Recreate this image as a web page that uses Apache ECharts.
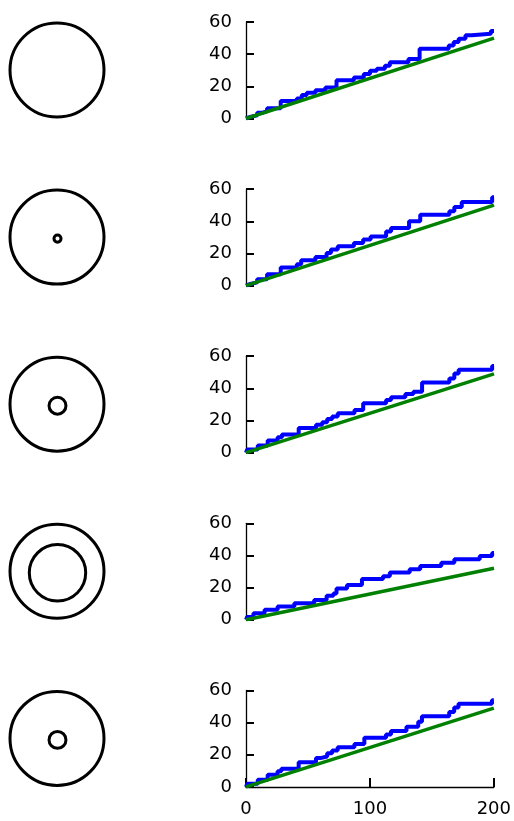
<!DOCTYPE html>
<html>
<head>
<meta charset="utf-8">
<script src="https://cdn.jsdelivr.net/npm/echarts@6/dist/echarts.min.js"></script>
<style>
html,body{margin:0;padding:0;background:#fff;}
#chart{width:514px;height:821px;}
</style>
</head>
<body>
<div id="chart"></div>
<script>
// ---- data ----
const xTicks = [0, 100, 200];
const yTicks = [0, 20, 40, 60];

// blue step series (x where a level starts, level value)
const blueX1 = [0, 1, 3.5, 9, 13, 17, 28, 41, 45, 49, 56, 64, 73, 87, 95, 100, 105.5, 112, 116, 131, 140, 163.5, 167.5, 171.5, 177, 182, 197.5, 200];
const blueY1 = [0, 1, 2, 3.5, 4.6, 6.3, 10.9, 12.5, 14.6, 16, 17.6, 19.2, 23.8, 25.5, 27.6, 29.7, 31, 32.8, 35, 37, 43.3, 45.4, 47.5, 49.6, 51.7, 52.7, 54.4, 54.4];

const blueX2 = [0, 1, 3.5, 9, 17, 28, 41, 44.5, 56, 65, 68.5, 74, 87, 94.5, 100.5, 113, 117, 131.5, 140.5, 164, 168, 174, 198.5, 200];
const blueY2 = [0, 1, 2, 4, 7, 11.2, 13.2, 15.7, 17.8, 20.3, 22.4, 24.4, 26.5, 28.6, 30.6, 33.7, 35.8, 40, 44.1, 46.2, 48.9, 52, 55, 55];

const blueX3 = [0, 1, 9.5, 17.5, 25.5, 29, 42.5, 56.5, 61.5, 65.5, 69.5, 74, 87.5, 94.5, 113, 117, 128.5, 135, 142, 164, 168, 171.5, 198.5, 200];
const blueY3 = [0, 2, 4.5, 7.6, 9.6, 11.3, 15.4, 17.4, 18.9, 20.9, 22.5, 24.6, 26.6, 30.7, 32.8, 34.4, 36.5, 37.9, 43.6, 46.1, 49.2, 51.6, 53.9, 53.9];

const blueX4 = [0, 1, 6, 15, 25.5, 39, 55, 65, 70.5, 73, 81.5, 93.5, 110.5, 116, 132, 140.5, 157.5, 168, 188.5, 198.5, 200];
const blueY4 = [0, 1.8, 4.1, 6.2, 8.2, 10.3, 12.3, 15, 16.4, 19.5, 21.6, 25.3, 27.1, 29.4, 31.4, 33.5, 35.5, 37.6, 39.6, 41.5, 41.5];

const blueX5 = [0, 1, 9.5, 17.5, 25.5, 28.5, 42.5, 56.5, 60, 65.5, 69.5, 74, 87.5, 95.5, 113, 117, 129.5, 139, 142, 164, 168, 171.5, 198.5, 200];
const blueY5 = [0, 2, 4.5, 7.6, 9.7, 11.3, 15.4, 17.9, 18.9, 21, 22.6, 24.6, 26.7, 30.6, 32.6, 34.7, 37.4, 40.5, 43.9, 46.6, 49.3, 51.7, 53.8, 53.8];

// green straight lines: start and end
const greenX = [0, 200];
const greenEnd = [50, 50, 49, 32, 49];

// inner circle size relative to outer circle (0 = none)
const innerRatio = [0, 0.075, 0.18, 0.6, 0.18];

// ---- build ----
const blueXs = [blueX1, blueX2, blueX3, blueX4, blueX5];
const blueYs = [blueY1, blueY2, blueY3, blueY4, blueY5];

const chart = echarts.init(document.getElementById('chart'), null, {renderer: 'canvas'});
const FONT = 'DejaVu Sans';
const rowH = 167.1;
const gridTop0 = 22;
const gridH = 96.5;
const grids = [], xAxes = [], yAxes = [], series = [], graphics = [];
const outerR = 47;

for (let i = 0; i < 5; i++) {
  const last = i === 4;
  grids.push({left: 246, width: 248, top: gridTop0 + rowH * i, height: gridH});
  xAxes.push({
    type: 'value', gridIndex: i, min: xTicks[0], max: xTicks[xTicks.length - 1], interval: 100,
    show: true,
    axisLine: {show: last, onZero: false, lineStyle: {color: '#000', width: 1.3}},
    axisTick: {show: last, inside: true, length: 9, lineStyle: {color: '#000', width: 2}},
    axisLabel: {show: last, color: '#000', fontFamily: FONT, fontSize: 18, margin: 13},
    splitLine: {show: false}
  });
  yAxes.push({
    type: 'value', gridIndex: i, min: yTicks[0], max: yTicks[yTicks.length - 1], interval: 20,
    axisLine: {show: true, lineStyle: {color: '#000', width: 1.3}},
    axisTick: {show: true, inside: true, length: 8, lineStyle: {color: '#000', width: 2}},
    axisLabel: {color: '#000', fontFamily: FONT, fontSize: 18, margin: 14},
    splitLine: {show: false}
  });
  series.push({
    type: 'line', xAxisIndex: i, yAxisIndex: i, step: 'end', symbol: 'none',
    data: blueXs[i].map((x, k) => [x, blueYs[i][k]]),
    lineStyle: {color: '#0000ff', width: 4}, z: 2, animation: false
  });
  series.push({
    type: 'line', xAxisIndex: i, yAxisIndex: i, symbol: 'none',
    data: [[greenX[0], 0], [greenX[1], greenEnd[i]]],
    lineStyle: {color: '#008000', width: 3.5}, z: 3, animation: false
  });
  const cy = 70 + rowH * i;
  graphics.push({type: 'circle', shape: {cx: 57, cy: cy, r: outerR},
    style: {fill: 'none', stroke: '#000', lineWidth: 3}});
  if (innerRatio[i] > 0) {
    graphics.push({type: 'circle', shape: {cx: 57.5, cy: cy + 1.5, r: outerR * innerRatio[i]},
      style: {fill: 'none', stroke: '#000', lineWidth: 3}});
  }
}

chart.setOption({
  animation: false,
  backgroundColor: '#fff',
  grid: grids, xAxis: xAxes, yAxis: yAxes, series: series,
  graphic: graphics
});
</script>
</body>
</html>
